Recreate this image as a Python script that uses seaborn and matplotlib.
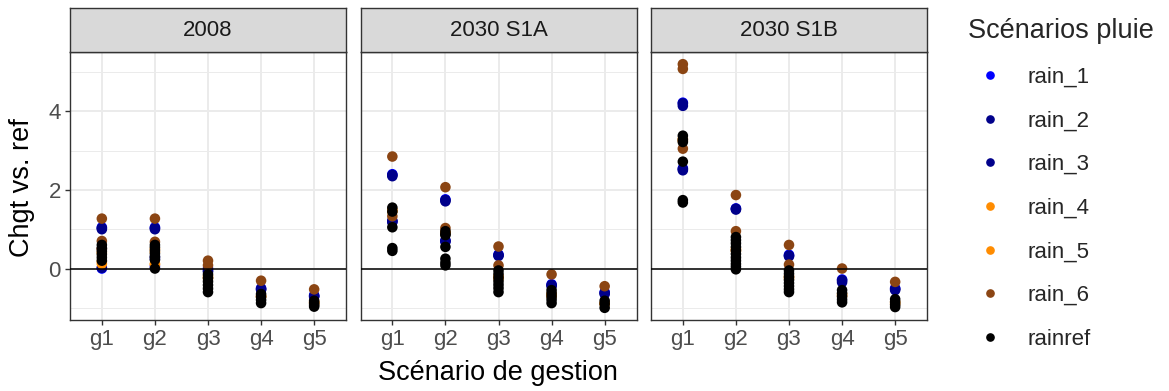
import matplotlib
matplotlib.use("Agg")
import matplotlib.pyplot as plt
from matplotlib.lines import Line2D
from matplotlib.ticker import MultipleLocator
import seaborn as sns
import pandas as pd

# Catégories
groups = ["g1", "g2", "g3", "g4", "g5"]
periods = ["2008", "2030 S1A", "2030 S1B"]
scenarios = ["rain_1", "rain_2", "rain_3", "rain_4", "rain_5", "rain_6", "rainref"]
colors = ["#0000FF", "#00008B", "#00008B", "#FF8C00", "#FF8C00", "#8B4513", "#000000"]

# Valeurs : une liste par scénario de gestion (g1..g5)
# --- 2008
r1_2008 = [[1.05, 0.0], [1.05, 0.05], [0.0], [-0.5], [-0.68]]
r2_2008 = [[1.03, 0.5], [1.03, 0.3], [-0.05], [-0.52], [-0.7]]
r3_2008 = [[1.0, 0.02], [1.0, 0.25], [-0.08], [-0.54], [-0.72]]
r4_2008 = [[0.12, 0.4], [0.1, 0.42], [-0.2], [-0.7], [-0.85]]
r5_2008 = [[0.18, 0.5], [0.12, 0.5], [-0.25], [-0.72], [-0.88]]
r6_2008 = [[1.27, 0.7], [1.27, 0.68], [0.2, 0.08], [-0.31], [-0.53]]
ref_2008 = [[0.2, 0.28, 0.36, 0.44, 0.52, 0.6], [0.0, 0.22, 0.3, 0.38, 0.46, 0.54, 0.6],
            [-0.15, -0.24, -0.33, -0.42, -0.51, -0.6], [-0.65, -0.72, -0.8, -0.88],
            [-0.82, -0.88, -0.93, -0.97]]
# --- 2030 S1A
r1_s1a = [[2.4, 1.2], [1.76, 0.7], [0.36], [-0.4], [-0.6]]
r2_s1a = [[2.38, 1.22], [1.74, 0.72], [0.34], [-0.42], [-0.62]]
r3_s1a = [[2.35, 1.18], [1.71, 0.68], [0.32], [-0.45], [-0.65]]
r4_s1a = [[1.45], [0.9], [-0.2], [-0.65], [-0.88]]
r5_s1a = [[1.5], [0.92], [-0.25], [-0.7], [-0.9]]
r6_s1a = [[2.85, 1.33], [2.07, 1.03], [0.56, 0.08], [-0.15], [-0.45]]
ref_s1a = [[1.55, 1.45, 1.05, 0.52, 0.45], [0.95, 0.88, 0.85, 0.55, 0.25, 0.15, 0.08],
           [-0.05, -0.14, -0.23, -0.32, -0.41, -0.5, -0.6],
           [-0.55, -0.63, -0.71, -0.79, -0.88], [-0.82, -0.9, -1.0]]
# --- 2030 S1B
r1_s1b = [[4.22, 2.55], [1.53], [0.35], [-0.28], [-0.5]]
r2_s1b = [[4.2, 2.53], [1.52], [0.33], [-0.3], [-0.52]]
r3_s1b = [[4.14, 2.5], [1.5], [0.31], [-0.35], [-0.55]]
r4_s1b = [[3.3], [0.5], [-0.2], [-0.65], [-0.85]]
r5_s1b = [[3.25], [0.45], [-0.25], [-0.7], [-0.9]]
r6_s1b = [[5.2, 5.08, 3.05], [1.87, 0.95], [0.6, 0.1], [0.0], [-0.34]]
ref_s1b = [[3.38, 3.28, 3.22, 2.72, 1.74, 1.68],
           [0.8, 0.72, 0.64, 0.55, 0.46, 0.37, 0.28, 0.2, 0.12, 0.05, -0.02],
           [-0.05, -0.13, -0.21, -0.29, -0.37, -0.45, -0.53, -0.6],
           [-0.55, -0.63, -0.71, -0.79, -0.86], [-0.78, -0.85, -0.92, -0.98]]

series = {
    "2008": [r1_2008, r2_2008, r3_2008, r4_2008, r5_2008, r6_2008, ref_2008],
    "2030 S1A": [r1_s1a, r2_s1a, r3_s1a, r4_s1a, r5_s1a, r6_s1a, ref_s1a],
    "2030 S1B": [r1_s1b, r2_s1b, r3_s1b, r4_s1b, r5_s1b, r6_s1b, ref_s1b],
}

rows = []
for p in periods:
    for scen, vals in zip(scenarios, series[p]):
        for g, lst in zip(groups, vals):
            for v in lst:
                rows.append({"periode": p, "scenario": scen, "gestion": g, "chgt": v})
df = pd.DataFrame(rows)

sns.set_style("white")
plt.rcParams["font.family"] = ["Liberation Sans", "DejaVu Sans"]

W, H = 1169, 391
fig = plt.figure(figsize=(W / 100, H / 100), dpi=100)

ymin, ymax = df["chgt"].min(), df["chgt"].max()
pad = (ymax - ymin) * 0.05
lefts = [70, 360.5, 651]
pw = 276
top_px, bot_px, strip_top = 52, 320, 8

for i, p in enumerate(periods):
    ax = fig.add_axes([lefts[i] / W, 1 - bot_px / H, pw / W, (bot_px - top_px) / H])
    sub = df[df["periode"] == p]
    sns.stripplot(data=sub, x="gestion", y="chgt", hue="scenario", order=groups,
                  hue_order=scenarios, palette=colors, jitter=False, size=7.6,
                  linewidth=0, legend=False, ax=ax, zorder=3)
    ax.axhline(0, color="black", lw=1.1, zorder=4)
    ax.set_xlim(-0.6, 4.6)
    ax.set_ylim(ymin - pad, ymax + pad)
    ax.yaxis.set_major_locator(MultipleLocator(2))
    ax.yaxis.set_minor_locator(MultipleLocator(1))
    ax.grid(True, which="major", color="#EBEBEB", lw=1.4, zorder=0)
    ax.grid(True, which="minor", axis="y", color="#EBEBEB", lw=0.7, zorder=0)
    ax.set_axisbelow(True)
    for s in ax.spines.values():
        s.set_color("#333333")
        s.set_linewidth(1.0)
    ax.tick_params(axis="both", which="major", length=3.6, width=1.0, color="#333333",
                   labelcolor="#4D4D4D", labelsize=16, pad=3, left=True, bottom=True)
    ax.tick_params(axis="y", which="minor", length=0)
    ax.set_xlabel("")
    ax.set_ylabel("")
    if i > 0:
        ax.tick_params(axis="y", labelleft=False, left=False)

    # bandeau de facette
    sax = fig.add_axes([lefts[i] / W, 1 - top_px / H, pw / W, (top_px - strip_top) / H])
    sax.set_facecolor("#D9D9D9")
    sax.set_xticks([])
    sax.set_yticks([])
    for s in sax.spines.values():
        s.set_color("#333333")
        s.set_linewidth(1.0)
    sax.text(0.5, 0.5, p, ha="center", va="center", fontsize=16, color="#1A1A1A",
             transform=sax.transAxes)

fig.text(22 / W, 1 - 188 / H, "Chgt vs. ref", rotation=90, ha="center", va="center",
         fontsize=19.5, color="black")
fig.text(498 / W, 1 - 373 / H, "Scénario de gestion", ha="center", va="center",
         fontsize=19.5, color="black")

handles = [Line2D([], [], marker="o", ls="", color=c, markersize=5.2) for c in colors]
fig.legend(handles, scenarios, title="Scénarios pluie", loc="upper left",
           bbox_to_anchor=(968 / W, 1 - 18 / H), frameon=False, fontsize=16,
           title_fontsize=19.5, labelspacing=1.02, handlelength=2.0,
           handletextpad=0.68, borderpad=0, borderaxespad=0, alignment="left")

fig.savefig("out.png", dpi=100)
